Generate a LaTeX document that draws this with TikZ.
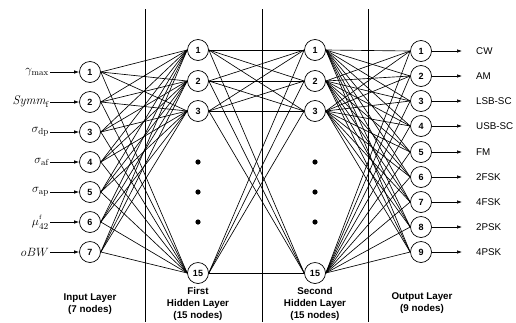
\documentclass[tikz,border=0pt]{standalone}
\usepackage{fontspec}
\setsansfont{Liberation Sans}
\usetikzlibrary{arrows.meta}
\tikzset{
  neuron/.style={draw, circle, fill=white, minimum size=21pt, inner sep=0pt,
    line width=0.7pt, font=\sffamily\bfseries\fontsize{9}{9}\selectfont},
  link/.style={line width=0.65pt},
  feed/.style={-{Latex[length=5pt,width=3.5pt]}, line width=0.65pt},
  inname/.style={anchor=east, inner sep=1pt, font=\fontsize{12.5}{12.5}\selectfont},
  outname/.style={anchor=west, inner sep=0pt, font=\sffamily\fontsize{9.8}{9.8}\selectfont},
  layername/.style={align=center, font=\sffamily\bfseries\fontsize{9.8}{11.8}\selectfont},
}
\begin{document}
\begin{tikzpicture}[x=1pt,y=-1pt]
      \useasboundingbox (0,0) rectangle (516,322);
      % layer separators
      \draw[line width=1pt] (145,9) -- (145,322) (262,9) -- (262,322) (368,9) -- (368,322);
      % input layer
      \draw
        (90,72) node[neuron] (i1){1}
        (90,102) node[neuron] (i2){2}
        (90,132) node[neuron] (i3){3}
        (90,162) node[neuron] (i4){4}
        (90,192) node[neuron] (i5){5}
        (90,222) node[neuron] (i6){6}
        (90,252) node[neuron] (i7){7};
      % first hidden layer
      \draw
        (198,50) node[neuron] (f1){1}
        (198,81) node[neuron] (f2){2}
        (198,111) node[neuron] (f3){3}
        (198,273) node[neuron] (f15){15};
      % second hidden layer
      \draw
        (315,50) node[neuron] (s1){1}
        (315,81) node[neuron] (s2){2}
        (315,111) node[neuron] (s3){3}
        (315,273) node[neuron] (s15){15};
      % output layer
      \draw
        (421,51) node[neuron] (o1){1}
        (421,76) node[neuron] (o2){2}
        (421,101) node[neuron] (o3){3}
        (421,126) node[neuron] (o4){4}
        (421,152) node[neuron] (o5){5}
        (421,177) node[neuron] (o6){6}
        (421,202) node[neuron] (o7){7}
        (421,227) node[neuron] (o8){8}
        (421,252) node[neuron] (o9){9};
      \foreach \x in {198,315}
        \foreach \y in {162,192,222}
          \fill (\x,\y) circle (2.6pt);
      \begin{scope}[link]
        \foreach \a in {1,...,7}
          \foreach \b in {1,2,3,15}
            \draw (i\a.east) to (f\b.west);
        \foreach \a in {1,2,3,15}
          \foreach \b in {1,2,3,15}
            \draw (f\a.east) to (s\b.west);
        \foreach \a in {1,2,3,15}
          \foreach \b in {1,...,9}
            \draw (s\a.east) to (o\b.west);
      \end{scope}
      % inputs
      \draw
        (50,72) node[inname] (x1){$\gamma_{\mathrm{max}}$}
        (50,102) node[inname] (x2){$\mathit{Symm}_{\mathrm{f}}$}
        (50,132) node[inname] (x3){$\sigma_{\mathrm{dp}}$}
        (50,162) node[inname] (x4){$\sigma_{\mathrm{af}}$}
        (50,192) node[inname] (x5){$\sigma_{\mathrm{ap}}$}
        (50,222) node[inname] (x6){$\mu^{\raisebox{1.5pt}{$\scriptscriptstyle\mathrm{f}$}}_{\raisebox{-1pt}{$\scriptstyle 42$}}$}
        (50,252) node[inname] (x7){$oBW$};
      \foreach \k in {1,...,7}
        \draw[feed] (x\k.east) to (i\k.west);
      % outputs
      \draw
        (476,51) node[outname] (y1){CW}
        (476,76) node[outname] (y2){AM}
        (476,101) node[outname] (y3){LSB-SC}
        (476,126) node[outname] (y4){USB-SC}
        (476,152) node[outname] (y5){FM}
        (476,177) node[outname] (y6){2FSK}
        (476,202) node[outname] (y7){4FSK}
        (476,227) node[outname] (y8){2PSK}
        (476,252) node[outname] (y9){4PSK};
      \foreach \k in {1,...,9}
        \draw[feed, shorten >=14pt] (o\k.east) to (y\k.west);
      % layer names
      \node[layername] (ln1) at (90,304) {Input Layer\\(7 nodes)};
      \node[layername] (ln2) at (198,304) {First\\Hidden Layer\\(15 nodes)};
      \node[layername] (ln3) at (315,304) {Second\\Hidden Layer\\(15 nodes)};
      \node[layername] (ln4) at (422,303) {Output Layer\\(9 nodes)};
    \end{tikzpicture}
\end{document}
